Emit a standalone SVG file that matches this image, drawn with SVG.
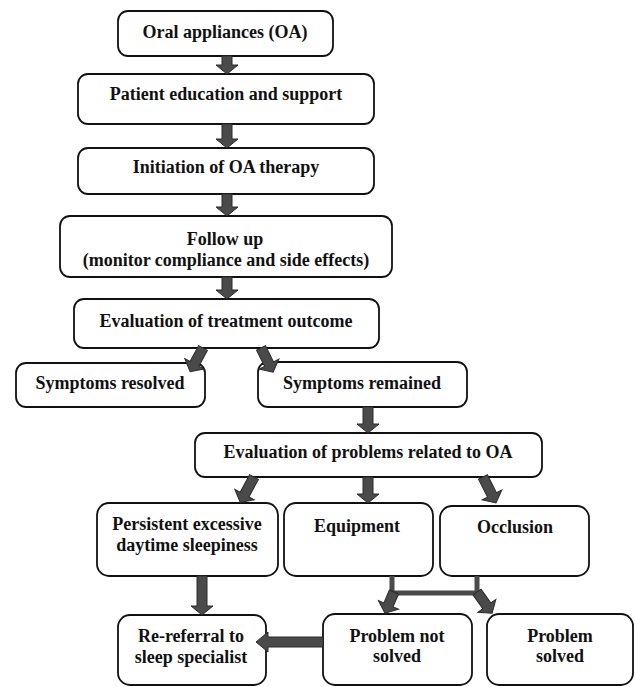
<svg xmlns="http://www.w3.org/2000/svg" width="635" height="687" viewBox="0 0 635 687">
<style>
.box{fill:#fff;stroke:#111;stroke-width:1.8}
.t{font-family:"Liberation Serif","Times New Roman",serif;font-weight:bold;font-size:18px;fill:#111;text-anchor:middle}
.arr{fill:#4a4a4a;stroke:#2b2b2b;stroke-width:1;stroke-linejoin:miter}
.ln{fill:none;stroke:#4a4a4a;stroke-width:5}
</style>
<rect width="635" height="687" fill="#fff"/>
<g id="n1"><rect class="box" x="118" y="11" width="215" height="45" rx="10"/><text class="t" x="225" y="38">Oral appliances (OA)</text></g>
<g id="n2"><rect class="box" x="78" y="74" width="296" height="50" rx="10"/><text class="t" x="226" y="100">Patient education and support</text></g>
<g id="n3"><rect class="box" x="78" y="148" width="296" height="46" rx="10"/><text class="t" x="226" y="173">Initiation of OA therapy</text></g>
<g id="n4"><rect class="box" x="60" y="216" width="332" height="61" rx="10"/><text class="t" x="225" y="245">Follow up</text><text class="t" x="226" y="266">(monitor compliance and side effects)</text></g>
<g id="n5"><rect class="box" x="74" y="299" width="305" height="49" rx="10"/><text class="t" x="226" y="327">Evaluation of treatment outcome</text></g>
<g id="n6"><rect class="box" x="16" y="363" width="189" height="44" rx="10"/><text class="t" x="110" y="389">Symptoms resolved</text></g>
<g id="n7"><rect class="box" x="258" y="362" width="209" height="45" rx="10"/><text class="t" x="362" y="389">Symptoms remained</text></g>
<g id="n8"><rect class="box" x="195" y="433" width="347" height="44" rx="10"/><text class="t" x="368" y="458">Evaluation of problems related to OA</text></g>
<g id="n9"><rect class="box" x="97" y="503" width="181" height="73" rx="12"/><text class="t" x="187" y="530">Persistent excessive</text><text class="t" x="187" y="551">daytime sleepiness</text></g>
<g id="n10"><rect class="box" x="284" y="503" width="149" height="73" rx="12"/><text class="t" x="357" y="532">Equipment</text></g>
<g id="n11"><rect class="box" x="440" y="506" width="149" height="70" rx="12"/><text class="t" x="515" y="533">Occlusion</text></g>
<g id="n12"><rect class="box" x="118" y="615" width="148" height="70" rx="12"/><text class="t" x="191" y="642">Re-referral to</text><text class="t" x="191" y="663">sleep specialist</text></g>
<g id="n13"><rect class="box" x="323" y="614" width="149" height="71" rx="12"/><text class="t" x="397" y="642">Problem not</text><text class="t" x="397" y="662">solved</text></g>
<g id="n14"><rect class="box" x="487" y="614" width="146" height="71" rx="12"/><text class="t" x="560" y="642">Problem</text><text class="t" x="560" y="662">solved</text></g>
<g id="connectors">
<polygon class="arr" transform="translate(227,56)" points="-5,0 5,0 5,9 11,9 0,18 -11,9 -5,9"/>
<polygon class="arr" transform="translate(227,124)" points="-5,0 5,0 5,15 11,15 0,24 -11,15 -5,15"/>
<polygon class="arr" transform="translate(227,194)" points="-5,0 5,0 5,13 11,13 0,22 -11,13 -5,13"/>
<polygon class="arr" transform="translate(227,277)" points="-5,0 5,0 5,13 11,13 0,22 -11,13 -5,13"/>
<polygon class="arr" transform="translate(203,348) rotate(28.4)" points="-5,0 5,0 5,18 11,18 0,27 -11,18 -5,18"/>
<polygon class="arr" transform="translate(261,348) rotate(-26.6)" points="-5,0 5,0 5,18 11,18 0,27 -11,18 -5,18"/>
<polygon class="arr" transform="translate(368,407)" points="-5,0 5,0 5,17 11,17 0,26 -11,17 -5,17"/>
<polygon class="arr" transform="translate(254,477) rotate(28.3)" points="-5,0 5,0 5,20 11,20 0,29 -11,20 -5,20"/>
<polygon class="arr" transform="translate(368,477)" points="-5,0 5,0 5,17 11,17 0,26 -11,17 -5,17"/>
<polygon class="arr" transform="translate(483,477) rotate(-26.6)" points="-5,0 5,0 5,20 11,20 0,29 -11,20 -5,20"/>
<polygon class="arr" transform="translate(202,576)" points="-5,0 5,0 5,30 11,30 0,39 -11,30 -5,30"/>
<path class="ln" d="M392,576 V593 H477 V576"/>
<polygon class="arr" transform="translate(394,592) rotate(23.2)" points="-5,0 5,0 5,14 11,14 0,23 -11,14 -5,14"/>
<polygon class="arr" transform="translate(477,592) rotate(-35.5)" points="-5,0 5,0 5,17 11,17 0,26 -11,17 -5,17"/>
<polygon class="arr" transform="translate(323,642) rotate(90)" points="-5,0 5,0 5,55 10,55 0,67 -10,55 -5,55"/>
</g>
</svg>
